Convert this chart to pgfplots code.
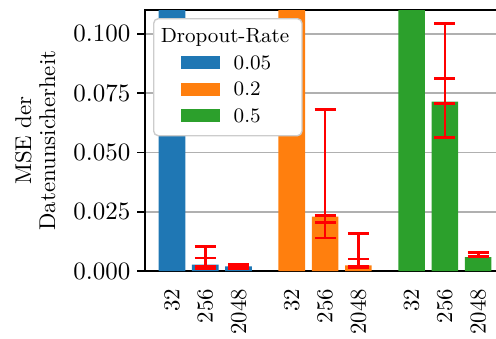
\documentclass[border=0pt]{standalone}
\usepackage{pgfplots}
\pgfplotsset{compat=1.18}
\usepackage{pgfplotstable}

\definecolor{tabblue}{HTML}{1F77B4}
\definecolor{taborange}{HTML}{FF7F0E}
\definecolor{tabgreen}{HTML}{2CA02C}
\definecolor{gridgray}{HTML}{B0B0B0}

% mean MSE per number of samples (32, 256, 2048), one table per dropout rate
\pgfplotstableread{
x y
0 0.300
1 0.0027
2 0.0020
}\rateA
\pgfplotstableread{
x y
3.6 0.300
4.6 0.0230
5.6 0.0024
}\rateB
\pgfplotstableread{
x y
7.2 0.300
8.2 0.0714
9.2 0.0059
}\rateC

% spread over runs: outer interval (lo, hi) and inner interval (ilo, ihi)
\pgfplotstableread{
x lo hi ilo ihi
1 0.0010 0.0104 0.0020 0.0055
2 0.0009 0.0027 0.0012 0.0024
4.6 0.0140 0.0680 0.0206 0.0234
5.6 0.0022 0.0158 0.0016 0.0051
8.2 0.0563 0.1042 0.0706 0.0811
9.2 0.0062 0.0078 0.0060 0.0076
}\spread

\pgfplotsset{
  patchlegend/.style={legend image code/.code={%
    \path (0pt,0pt);
    \fill[##1, sharp corners] (8.7pt,-2.25pt) rectangle (25.8pt,3.45pt);}},
  spreadbar/.style={forget plot, draw=none, mark=none,
    error bars/.cd, y dir=both, y explicit,
    error mark=-,
    error bar style={draw=red, line width=1.2pt},
    error mark options={rotate=90, draw=red, line width=1.2pt, mark size=4.6pt}},
}

\begin{document}
\begin{tikzpicture}
\useasboundingbox (-63.6pt,-29.4pt) rectangle (153.9pt,118.9pt);
\begin{axis}[
  scale only axis,
  width=157.9pt, height=114.5pt,
  xmin=-0.81, xmax=10.01,
  ymin=0, ymax=0.11,
  xtick={0,1,2,3.6,4.6,5.6,7.2,8.2,9.2},
  xticklabels={32,256,2048,32,256,2048,32,256,2048},
  ytick={0,0.025,0.05,0.075,0.1},
  scaled y ticks=false,
  yticklabel style={font=\fontsize{10.6}{12}\selectfont, xshift=0.6pt,
    /pgf/number format/.cd, fixed, fixed zerofill, precision=3},
  xticklabel style={rotate=90, anchor=east, xshift=-0.8pt},
  tick align=outside,
  major tick length=3.5pt,
  major x tick style={draw=none},
  major y tick style={black, line width=0.8pt},
  ymajorgrids,
  grid style={gridgray, line width=0.7pt},
  axis line style={line width=0.9pt},
  ylabel={MSE der\\Datenunsicherheit},
  ylabel style={align=center, font=\fontsize{10}{10.5}\selectfont,
    at={(axis description cs:-0.305,0.5)}, anchor=center},
  legend style={
    at={(axis description cs:0,1)}, anchor=north west,
    xshift=3.5pt, yshift=-3.5pt,
    draw=black!20, line width=0.6pt, rounded corners=2pt, fill=white,
    inner xsep=3.1pt, inner ysep=4pt,
    font=\fontsize{9}{11}\selectfont,
    nodes={inner sep=0pt, text height=6.5pt, text depth=2pt},
    cells={anchor=west},
    column sep=6.2pt, row sep=3.1pt,
  },
]
\addlegendimage{empty legend}
\addlegendentry{\hspace*{-32pt}Dropout-Rate\hspace*{2.5pt}}

\addplot[ybar, bar width=0.8, bar shift=0pt, fill=tabblue, draw=none, patchlegend]
  table[x=x, y=y] {\rateA};
\addlegendentry{0.05}
\addplot[ybar, bar width=0.8, bar shift=0pt, fill=taborange, draw=none, patchlegend]
  table[x=x, y=y] {\rateB};
\addlegendentry{0.2}
\addplot[ybar, bar width=0.8, bar shift=0pt, fill=tabgreen, draw=none, patchlegend]
  table[x=x, y=y] {\rateC};
\addlegendentry{0.5}

\addplot[spreadbar] table[x=x, y expr={(\thisrow{lo}+\thisrow{hi})/2},
  y error expr={(\thisrow{hi}-\thisrow{lo})/2}] {\spread};
\addplot[spreadbar] table[x=x, y expr={(\thisrow{ilo}+\thisrow{ihi})/2},
  y error expr={(\thisrow{ihi}-\thisrow{ilo})/2}] {\spread};
\end{axis}
\end{tikzpicture}
\end{document}
